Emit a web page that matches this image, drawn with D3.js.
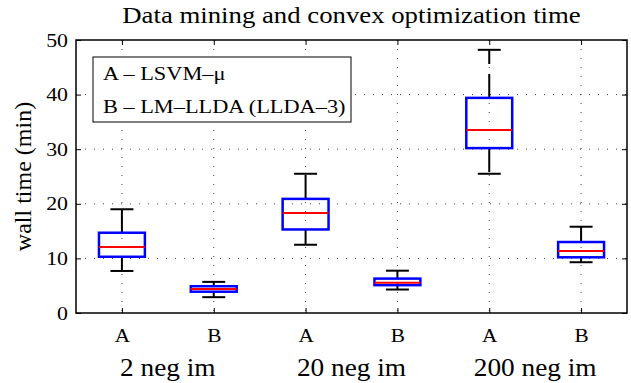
<!DOCTYPE html>
<html>
<head>
<meta charset="utf-8">
<script src="https://cdn.jsdelivr.net/npm/d3@7"></script>
<style>
  body { margin: 0; background: #fff; }
  text { font-family: "Liberation Serif", "Times New Roman", serif; fill: #000; }
</style>
</head>
<body>
<svg id="chart" width="631" height="383"></svg>
<script>
// values (minutes)
const groups = ["2 neg im", "20 neg im", "200 neg im"];
const boxLabels = ["A", "B", "A", "B", "A", "B"];
const whiskerLow = [7.7, 2.9, 12.5, 4.3, 25.5, 9.3];
const q1 = [10.3, 3.9, 15.3, 5.1, 30.2, 10.2];
const medians = [12.1, 4.4, 18.3, 5.55, 33.5, 11.35];
const q3 = [14.7, 4.9, 20.9, 6.3, 39.4, 13.0];
const whiskerHigh = [19.0, 5.7, 25.5, 7.75, 48.2, 15.8];
const yTicks = [0, 10, 20, 30, 40, 50];
const legendLines = ["A \u2013 LSVM\u2013\u03bc", "B \u2013 LM\u2013LLDA (LLDA\u20133)"];

let margin = {top: 40, right: 4, bottom: 70, left: 76};
let width = 631 - margin.left - margin.right;
let height = 383 - margin.top - margin.bottom;
let sx = 1.15; // text in the reference is a bit wider than tall

let svg = d3.select("#chart");
let g = svg.append("g")
    .attr("transform", `translate(${margin.left}, ${margin.top})`);

let boxes = boxLabels.map(function(d, i) {
    return {pos: i + 1, label: d, lo: whiskerLow[i], q1: q1[i], med: medians[i], q3: q3[i], hi: whiskerHigh[i]};
});

let x = d3.scaleLinear()
    .domain([0.5, boxLabels.length + 0.5])
    .range([0, width]);

let y = d3.scaleLinear()
    .domain([0, 50])
    .range([height, 0]);

let xTicks = boxes.map(d => d.pos);

// dotted grid
g.append("g")
    .selectAll("line.gy")
    .data(yTicks.slice(1, -1))
    .join("line")
    .attr("x1", 0).attr("x2", width)
    .attr("y1", d => y(d)).attr("y2", d => y(d))
    .style("stroke", "#444")
    .style("stroke-width", 1)
    .style("stroke-dasharray", "1,8");

g.append("g")
    .selectAll("line.gx")
    .data(xTicks)
    .join("line")
    .attr("x1", d => x(d)).attr("x2", d => x(d))
    .attr("y1", 0).attr("y2", height)
    .style("stroke", "#444")
    .style("stroke-width", 1)
    .style("stroke-dasharray", "1,8");

// axes with inward ticks
let yAxis = g.append("g")
    .call(d3.axisLeft(y).tickValues(yTicks).tickSize(-5).tickPadding(8).tickSizeOuter(0));
let yAxisR = g.append("g")
    .attr("transform", `translate(${width}, 0)`)
    .call(d3.axisRight(y).tickValues(yTicks).tickSize(-5).tickFormat("").tickSizeOuter(0));
let xAxis = g.append("g")
    .attr("transform", `translate(0, ${height})`)
    .call(d3.axisBottom(x).tickValues(xTicks).tickFormat((d, i) => boxLabels[i]).tickSize(-5).tickPadding(16).tickSizeOuter(0));
let xAxisT = g.append("g")
    .call(d3.axisTop(x).tickValues(xTicks).tickSize(-5).tickFormat("").tickSizeOuter(0));

[yAxis, yAxisR, xAxis, xAxisT].forEach(function(a) {
    a.select(".domain").remove();
    a.selectAll(".tick line").style("stroke", "#000").style("stroke-width", 1);
});

yAxis.selectAll("text")
    .style("font-size", "19px")
    .attr("font-family", null)
    .attr("transform", function() {
        let xx = +d3.select(this).attr("x");
        return `translate(${xx}, 0) scale(${sx}, 1) translate(${-xx}, 0)`;
    });
xAxis.selectAll("text")
    .style("font-size", "18.5px")
    .attr("font-family", null)
    .attr("transform", `scale(${sx}, 1)`);

// frame
g.append("rect")
    .attr("x", 0).attr("y", 0)
    .attr("width", width).attr("height", height)
    .style("fill", "none")
    .style("stroke", "#000")
    .style("stroke-width", 1.5);

// boxplots
let half = x(1.25) - x(1);
let capHalf = x(1.125) - x(1);

let bp = g.append("g").selectAll("g.box")
    .data(boxes)
    .join("g")
    .attr("class", "box");

bp.append("line")
    .attr("x1", d => x(d.pos)).attr("x2", d => x(d.pos))
    .attr("y1", d => y(d.q3)).attr("y2", d => y(d.hi))
    .style("stroke", "#000").style("stroke-width", 2)
    .style("stroke-dasharray", "24,10");
bp.append("line")
    .attr("x1", d => x(d.pos)).attr("x2", d => x(d.pos))
    .attr("y1", d => y(d.q1)).attr("y2", d => y(d.lo))
    .style("stroke", "#000").style("stroke-width", 2)
    .style("stroke-dasharray", "24,10");
bp.append("line")
    .attr("x1", d => x(d.pos) - capHalf).attr("x2", d => x(d.pos) + capHalf)
    .attr("y1", d => y(d.hi)).attr("y2", d => y(d.hi))
    .style("stroke", "#000").style("stroke-width", 2);
bp.append("line")
    .attr("x1", d => x(d.pos) - capHalf).attr("x2", d => x(d.pos) + capHalf)
    .attr("y1", d => y(d.lo)).attr("y2", d => y(d.lo))
    .style("stroke", "#000").style("stroke-width", 2);
bp.append("rect")
    .attr("x", d => x(d.pos) - half)
    .attr("y", d => y(d.q3))
    .attr("width", half * 2)
    .attr("height", d => y(d.q1) - y(d.q3))
    .style("fill", "none")
    .style("stroke", "#0000ff")
    .style("stroke-width", 2.5);
bp.append("line")
    .attr("x1", d => x(d.pos) - half).attr("x2", d => x(d.pos) + half)
    .attr("y1", d => y(d.med)).attr("y2", d => y(d.med))
    .style("stroke", "#ff0000").style("stroke-width", 2);

// group labels under each pair
g.append("g").selectAll("text")
    .data(groups)
    .join("text")
    .attr("text-anchor", "middle")
    .attr("transform", (d, i) => `translate(${x(2 * i + 1.5)}, ${height + 63}) scale(${sx * 0.95}, 1)`)
    .style("font-size", "25px")
    .text(d => d);

// title
svg.append("text")
    .attr("text-anchor", "middle")
    .attr("transform", `translate(${margin.left + width / 2}, 23) scale(${sx * 0.97}, 1)`)
    .style("font-size", "24px")
    .text("Data mining and convex optimization time");

// y label
svg.append("text")
    .attr("text-anchor", "middle")
    .attr("transform", `translate(31, ${margin.top + height / 2}) rotate(-90)`)
    .style("font-size", "24px")
    .text("wall time (min)");

// legend
let legend = g.append("g").attr("transform", "translate(17, 17)");
legend.append("rect")
    .attr("width", 258).attr("height", 65)
    .style("fill", "#fff")
    .style("stroke", "#000")
    .style("stroke-width", 1);
legend.selectAll("text")
    .data(legendLines)
    .join("text")
    .attr("transform", (d, i) => `translate(10, ${23 + i * 33}) scale(${sx * 1.05}, 1)`)
    .style("font-size", "18.5px")
    .text(d => d);
</script>
</body>
</html>
